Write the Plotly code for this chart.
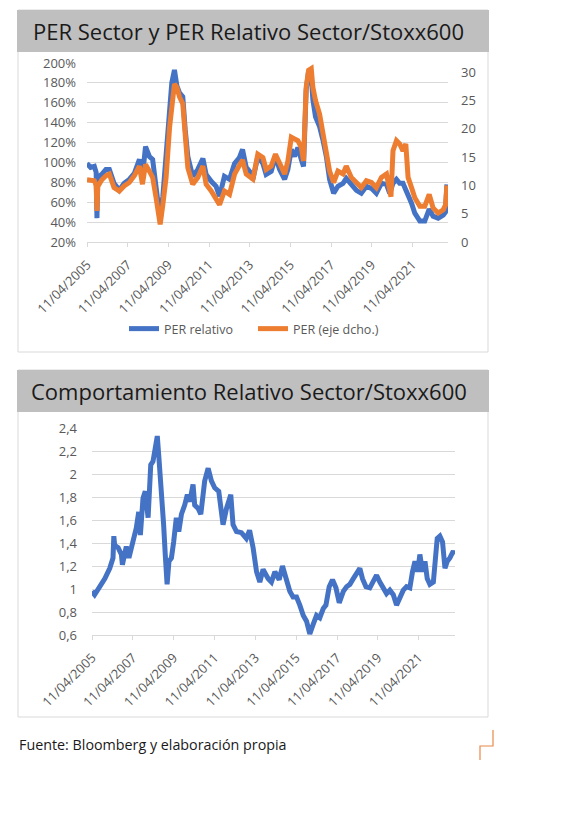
import plotly.graph_objects as go
import pandas as pd

# ---------------- DATA ----------------
# Top chart: dates as decimal years, PER relativo (%) and PER sector (right axis)
per_fechas = [2005.27, 2005.45, 2005.63, 2005.72, 2005.76, 2005.80, 2006.00, 2006.20, 2006.37, 2006.60,
              2006.86, 2007.10, 2007.35, 2007.60, 2007.85, 2008.00, 2008.15, 2008.34, 2008.50, 2008.67,
              2008.87, 2009.00, 2009.16, 2009.33, 2009.44, 2009.57, 2009.69, 2009.82, 2009.98, 2010.10,
              2010.23, 2010.47, 2010.72, 2010.97, 2011.13, 2011.38, 2011.62, 2011.79, 2012.03, 2012.28,
              2012.53, 2012.77, 2012.92, 2013.10, 2013.30, 2013.43, 2013.67, 2013.92, 2014.08, 2014.33,
              2014.54, 2014.74, 2014.99, 2015.15, 2015.32, 2015.48, 2015.64, 2015.81, 2015.92, 2016.05,
              2016.17, 2016.30, 2016.38, 2016.51, 2016.71, 2016.87, 2017.04, 2017.20, 2017.40, 2017.61,
              2017.86, 2018.02, 2018.27, 2018.52, 2018.76, 2019.01, 2019.26, 2019.50, 2019.75, 2020.00,
              2020.16, 2020.22, 2020.32, 2020.49, 2020.65, 2020.81, 2020.95, 2021.06, 2021.23, 2021.39,
              2021.64, 2021.88, 2022.10, 2022.29, 2022.54, 2022.79, 2022.90, 2022.97]
per_relativo = [99, 95, 96, 90, 44, 85, 88, 93, 93, 79,
                72, 79, 83, 89, 103, 86, 116, 106, 103, 72,
                42, 66, 103, 153, 180, 193, 177, 170, 166, 133,
                106, 86, 93, 104, 88, 81, 76, 66, 86, 83,
                99, 105, 113, 95, 90, 83, 106, 99, 88, 91,
                106, 93, 83, 93, 113, 106, 115, 103, 96, 173,
                192, 187, 163, 146, 136, 123, 106, 83, 69, 76,
                79, 84, 78, 72, 69, 76, 74, 69, 79, 78,
                69, 72, 79, 83, 79, 79, 72, 69, 59, 49,
                41, 41, 53, 46, 44, 47, 50, 78]
per_sector = [11.0, 10.9, 10.8, 10.0, 5.5, 9.8, 11.0, 11.7, 12.0, 9.6,
              9.0, 9.9, 10.5, 11.7, 13.4, 10.2, 13.7, 12.5, 11.4, 7.8,
              3.1, 6.6, 11.4, 20.2, 24.4, 27.9, 27.3, 25.6, 24.4, 17.3,
              13.1, 10.2, 11.4, 13.4, 10.2, 9.0, 7.8, 6.6, 9.0, 8.4,
              12.0, 13.5, 14.5, 12.0, 11.5, 11.1, 15.5, 14.9, 12.8, 13.4,
              15.5, 13.7, 12.0, 14.3, 18.5, 18.2, 17.9, 16.7, 14.3, 27.3,
              30.3, 30.6, 27.3, 25.0, 22.6, 19.3, 16.1, 12.5, 10.5, 12.5,
              12.0, 13.4, 11.4, 10.5, 9.6, 10.8, 10.5, 9.6, 11.4, 12.0,
              8.4, 8.0, 16.1, 17.9, 17.3, 16.1, 17.3, 11.4, 9.6, 7.8,
              6.3, 6.3, 8.4, 6.0, 5.1, 5.7, 6.5, 10.0]

# Bottom chart: relative performance sector / Stoxx600
comp_fechas = [2005.27, 2005.40, 2005.65, 2005.90, 2006.14, 2006.30, 2006.34, 2006.38, 2006.55, 2006.71,
               2006.76, 2006.95, 2007.08, 2007.28, 2007.44, 2007.56, 2007.64, 2007.77, 2007.88, 2008.02,
               2008.15, 2008.26, 2008.38, 2008.47, 2008.55, 2008.67, 2008.78, 2008.86, 2008.95, 2009.04,
               2009.16, 2009.27, 2009.40, 2009.52, 2009.65, 2009.81, 2009.94, 2010.06, 2010.22, 2010.30,
               2010.47, 2010.60, 2010.79, 2010.96, 2011.12, 2011.28, 2011.48, 2011.69, 2011.86, 2012.07,
               2012.18, 2012.35, 2012.59, 2012.83, 2012.99, 2013.16, 2013.33, 2013.49, 2013.65, 2013.90,
               2014.06, 2014.23, 2014.44, 2014.60, 2014.80, 2014.96, 2015.12, 2015.29, 2015.45, 2015.62,
               2015.78, 2015.94, 2016.10, 2016.27, 2016.43, 2016.60, 2016.73, 2016.89, 2017.05, 2017.22,
               2017.38, 2017.58, 2017.74, 2017.90, 2018.07, 2018.23, 2018.39, 2018.52, 2018.69, 2018.88,
               2019.05, 2019.21, 2019.37, 2019.54, 2019.70, 2019.86, 2020.03, 2020.19, 2020.35, 2020.52,
               2020.68, 2020.84, 2020.97, 2021.09, 2021.22, 2021.33, 2021.46, 2021.58, 2021.69, 2021.82,
               2021.99, 2022.07, 2022.18, 2022.31, 2022.44, 2022.56, 2022.67, 2022.80, 2022.97, 2023.03]
comp_relativo = [0.98, 0.95, 1.02, 1.09, 1.18, 1.27, 1.46, 1.38, 1.36, 1.30,
                 1.21, 1.37, 1.27, 1.41, 1.53, 1.67, 1.47, 1.79, 1.85, 1.62,
                 2.08, 2.11, 2.25, 2.33, 2.14, 1.88, 1.56, 1.30, 1.04, 1.24,
                 1.27, 1.41, 1.62, 1.50, 1.65, 1.73, 1.82, 1.76, 1.91, 1.73,
                 1.70, 1.65, 1.94, 2.05, 1.94, 1.88, 1.85, 1.56, 1.70, 1.82,
                 1.56, 1.50, 1.49, 1.44, 1.51, 1.36, 1.15, 1.06, 1.17, 1.09,
                 1.06, 1.15, 1.08, 1.20, 1.06, 0.98, 0.93, 0.93, 0.86, 0.77,
                 0.72, 0.61, 0.69, 0.77, 0.75, 0.83, 0.86, 1.02, 1.08, 1.01,
                 0.88, 0.98, 1.02, 1.04, 1.09, 1.14, 1.18, 1.09, 1.02, 1.01,
                 1.06, 1.12, 1.06, 1.01, 0.96, 0.99, 0.95, 0.86, 0.93, 0.99,
                 1.02, 1.01, 1.15, 1.24, 1.15, 1.30, 1.15, 1.24, 1.09, 1.04,
                 1.06, 1.24, 1.44, 1.46, 1.41, 1.18, 1.24, 1.27, 1.33, 1.30]

tick_fechas = ["2005-04-11", "2007-04-11", "2009-04-11", "2011-04-11", "2013-04-11",
               "2015-04-11", "2017-04-11", "2019-04-11", "2021-04-11"]
tick_textos = ["11/04/2005", "11/04/2007", "11/04/2009", "11/04/2011", "11/04/2013",
               "11/04/2015", "11/04/2017", "11/04/2019", "11/04/2021"]
per_ticks_izq = [20, 40, 60, 80, 100, 120, 140, 160, 180, 200]
per_ticks_izq_txt = ["20%", "40%", "60%", "80%", "100%", "120%", "140%", "160%", "180%", "200%"]
per_ticks_der = [0, 5, 10, 15, 20, 25, 30]
comp_ticks = [0.6, 0.8, 1.0, 1.2, 1.4, 1.6, 1.8, 2.0, 2.2, 2.4]
comp_ticks_txt = ["0,6", "0,8", "1", "1,2", "1,4", "1,6", "1,8", "2", "2,2", "2,4"]

titulo_1 = "PER Sector y PER Relativo Sector/Stoxx600"
titulo_2 = "Comportamiento Relativo Sector/Stoxx600"
fuente = "Fuente: Bloomberg y elaboración propia"


def to_date(y):
    yi = int(y)
    return pd.Timestamp(yi, 1, 1) + pd.Timedelta(days=(y - yi) * 365.25)


per_x = [to_date(v) for v in per_fechas]
comp_x = [to_date(v) for v in comp_fechas]

# ---------------- LAYOUT HELPERS ----------------
W, H = 565, 822


def fx(x):
    return x / W


def fy(y):
    return 1 - y / H


BLUE = "#4472C4"
ORANGE = "#ED7D31"
GRID = "#D9D9D9"
TXT = "#595959"
TICKFONT = dict(family="Open Sans", size=13, color=TXT)

fig = go.Figure()
fig.add_trace(go.Scatter(x=per_x, y=per_relativo, mode="lines", name="PER relativo",
                         line=dict(color=BLUE, width=5), xaxis="x", yaxis="y"))
fig.add_trace(go.Scatter(x=per_x, y=per_sector, mode="lines", name="PER (eje dcho.)",
                         line=dict(color=ORANGE, width=5), xaxis="x", yaxis="y2"))
fig.add_trace(go.Scatter(x=comp_x, y=comp_relativo, mode="lines", name="Comportamiento relativo",
                         line=dict(color=BLUE, width=5), xaxis="x2", yaxis="y3", showlegend=False))

xcommon = dict(type="date", tickvals=tick_fechas, ticktext=tick_textos, tickangle=-45,
               showgrid=False, showline=True, linecolor=GRID, linewidth=1, automargin=False,
               ticks="outside", ticklen=4, tickcolor=GRID, tickfont=TICKFONT, zeroline=False,
               ticklabelstandoff=5)

fig.update_layout(
    template="none",
    width=W, height=H,
    margin=dict(l=0, r=0, t=0, b=0, autoexpand=False),
    paper_bgcolor="white", plot_bgcolor="rgba(0,0,0,0)",
    xaxis=dict(domain=[fx(87), fx(448)], anchor="y",
               range=[per_x[0], "2023-01-10"], **xcommon),
    yaxis=dict(domain=[fy(242), fy(63)], anchor="x", range=[20, 200], automargin=False,
               tickvals=per_ticks_izq, ticktext=per_ticks_izq_txt, showgrid=True, gridcolor=GRID,
               gridwidth=1, zeroline=False, showline=False, tickfont=TICKFONT, ticks="",
               ticklabelstandoff=10),
    yaxis2=dict(overlaying="y", side="right", anchor="x", range=[0, 31.6], automargin=False,
                tickvals=per_ticks_der, showgrid=False, zeroline=False, showline=False,
                tickfont=TICKFONT, ticks="", ticklabelstandoff=12),
    xaxis2=dict(domain=[fx(92), fx(455)], anchor="y3",
                range=[comp_x[0], "2023-01-20"], **xcommon),
    yaxis3=dict(domain=[fy(635), fy(428)], anchor="x2", range=[0.6, 2.4], automargin=False,
                tickvals=comp_ticks, ticktext=comp_ticks_txt, showgrid=True, gridcolor=GRID,
                gridwidth=1, zeroline=False, showline=False, tickfont=TICKFONT, ticks="",
                ticklabelstandoff=14),
    showlegend=True,
    legend=dict(orientation="h", x=fx(253), xanchor="center", y=fy(329), yanchor="middle",
                font=dict(family="Open Sans", size=12.5, color=TXT), bgcolor="rgba(0,0,0,0)",
                itemwidth=30, tracegroupgap=0, entrywidth=84, entrywidthmode="pixels"),
)

shapes = [
    # top box + title bar
    dict(type="rect", xref="paper", yref="paper", x0=fx(18), x1=fx(488), y0=fy(352), y1=fy(10),
         line=dict(color=GRID, width=1), fillcolor="rgba(0,0,0,0)", layer="below"),
    dict(type="rect", xref="paper", yref="paper", x0=fx(17), x1=fx(489), y0=fy(52), y1=fy(10),
         line=dict(width=0), fillcolor="#BFBFBF", layer="below"),
    # bottom box + title bar
    dict(type="rect", xref="paper", yref="paper", x0=fx(18), x1=fx(488), y0=fy(717), y1=fy(370),
         line=dict(color=GRID, width=1), fillcolor="rgba(0,0,0,0)", layer="below"),
    dict(type="rect", xref="paper", yref="paper", x0=fx(17), x1=fx(489), y0=fy(412), y1=fy(370),
         line=dict(width=0), fillcolor="#BFBFBF", layer="below"),
    # orange corner mark
    dict(type="path", xref="paper", yref="paper",
         path=f"M {fx(493)} {fy(730)} L {fx(493)} {fy(746)} L {fx(480)} {fy(746)} L {fx(480)} {fy(760)}",
         line=dict(color="#E8894A", width=1.2)),
]
fig.update_layout(shapes=shapes)

annotations = [
    dict(text=titulo_1, xref="paper", yref="paper", x=fx(31), y=fy(31), xanchor="left",
         yanchor="middle", showarrow=False, font=dict(family="Open Sans", size=22, color="#1A1A1A")),
    dict(text=titulo_2, xref="paper", yref="paper", x=fx(29), y=fy(391), xanchor="left",
         yanchor="middle", showarrow=False, font=dict(family="Open Sans", size=22, color="#1A1A1A")),
    dict(text=fuente, xref="paper", yref="paper", x=fx(17), y=fy(744), xanchor="left",
         yanchor="middle", showarrow=False, font=dict(family="Open Sans", size=14.3, color="#1A1A1A")),
]
fig.update_layout(annotations=annotations)

fig.write_html("out.html")
